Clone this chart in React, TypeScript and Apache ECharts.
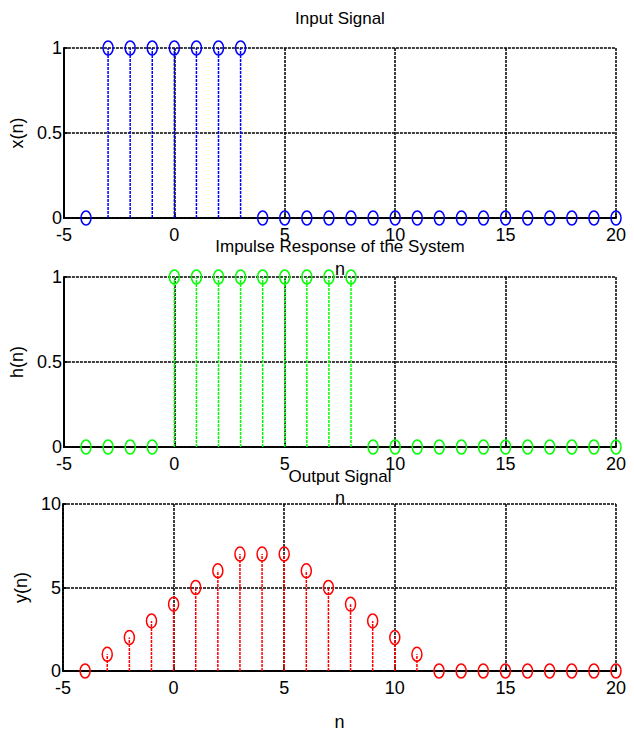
import React, { useEffect, useRef } from "react";
import * as echarts from "echarts";

const nIdx = [-4, -3, -2, -1, 0, 1, 2, 3, 4, 5, 6, 7, 8, 9, 10, 11, 12, 13, 14, 15, 16, 17, 18, 19, 20];
const xVals = [0, 1, 1, 1, 1, 1, 1, 1, 0, 0, 0, 0, 0, 0, 0, 0, 0, 0, 0, 0, 0, 0, 0, 0, 0];
const hVals = [0, 0, 0, 0, 1, 1, 1, 1, 1, 1, 1, 1, 1, 0, 0, 0, 0, 0, 0, 0, 0, 0, 0, 0, 0];
const yVals = [0, 1, 2, 3, 4, 5, 6, 7, 7, 7, 6, 5, 4, 3, 2, 1, 0, 0, 0, 0, 0, 0, 0, 0, 0];

const titles = ["Input Signal", "Impulse Response of the System", "Output Signal"];
const yNames = ["x(n)", "h(n)", "y(n)"];
const yMax = [1, 1, 10];
const yInterval = [0.5, 0.5, 5];
const colors = ["#0000ff", "#00ff00", "#ff0000"];
const seriesVals = [xVals, hVals, yVals];

const FONT = "'Liberation Sans', Arial, sans-serif";

export default function App() {
  const ref = useRef<HTMLDivElement>(null);
  useEffect(() => {
    if (!ref.current) return;
    const chart = echarts.init(ref.current, null, { renderer: "svg" });
    const tops = [48, 277, 504];
    const grid = tops.map((t) => ({ left: 63, top: t, width: 553, height: 170, containLabel: false }));
    const nameGaps = [23, 25, 19];
    const gridLine = { color: "#000", width: 1.5, type: [3, 1] };
    const xAxis = tops.map((_, i) => ({
      type: "value",
      gridIndex: i,
      min: -5,
      max: 20,
      interval: 5,
      name: "n",
      nameLocation: "middle",
      nameGap: 42,
      nameTextStyle: { fontSize: 18, fontFamily: FONT, color: "#000" },
      axisLine: { show: true, onZero: false, lineStyle: { color: "#000", width: 2, type: [3, 1] } },
      axisTick: { show: true, inside: true, length: 4, lineStyle: { color: "#000", width: 1.5 } },
      axisLabel: { fontSize: 18, fontFamily: FONT, color: "#000", margin: 8 },
      splitLine: { show: true, lineStyle: gridLine },
    }));
    const yAxis = tops.map((_, i) => ({
      type: "value",
      gridIndex: i,
      min: 0,
      max: yMax[i],
      interval: yInterval[i],
      name: yNames[i],
      nameLocation: "middle",
      nameGap: nameGaps[i],
      nameRotate: 90,
      nameTextStyle: { fontSize: 18, fontFamily: FONT, color: "#000" },
      axisLine: { show: true, onZero: false, lineStyle: { color: "#000", width: 2, type: [3, 1] } },
      axisTick: { show: true, inside: true, length: 4, lineStyle: { color: "#000", width: 1.5 } },
      axisLabel: { fontSize: 18, fontFamily: FONT, color: "#000", margin: 2 },
      splitLine: { show: true, lineStyle: gridLine },
    }));
    const series = seriesVals.map((vals, i) => ({
      type: "custom",
      xAxisIndex: i,
      yAxisIndex: i,
      clip: false,
      z: 5,
      data: nIdx.map((n, k) => [n, vals[k]]),
      encode: { x: 0, y: 1 },
      renderItem: (params: any, api: any) => {
        const base = api.coord([api.value(0), 0]);
        const top = api.coord([api.value(0), api.value(1)]);
        return {
          type: "group",
          children: [
            {
              type: "line",
              shape: { x1: base[0], y1: base[1], x2: top[0], y2: top[1] },
              style: { stroke: colors[i], lineWidth: 1.5, lineDash: [3, 1] },
            },
            {
              type: "ellipse",
              shape: { cx: top[0], cy: top[1], rx: 5, ry: 7 },
              style: { fill: "none", stroke: colors[i], lineWidth: 1.5 },
            },
          ],
        };
      },
    }));
    const titleY = [18, 246, 476];
    const graphic = titles.map((t, i) => ({
      type: "text",
      x: 340,
      y: titleY[i],
      z: 100,
      style: {
        text: t,
        align: "center",
        verticalAlign: "middle",
        fontSize: 17,
        fontFamily: FONT,
        fill: "#000",
      },
    }));
    chart.setOption({
      animation: false,
      backgroundColor: "#fff",
      grid,
      xAxis,
      yAxis,
      series,
      graphic,
    });
    return () => chart.dispose();
  }, []);
  return <div ref={ref} style={{ width: 634, height: 732, position: "absolute", left: 0, top: 0 }} />;
}
